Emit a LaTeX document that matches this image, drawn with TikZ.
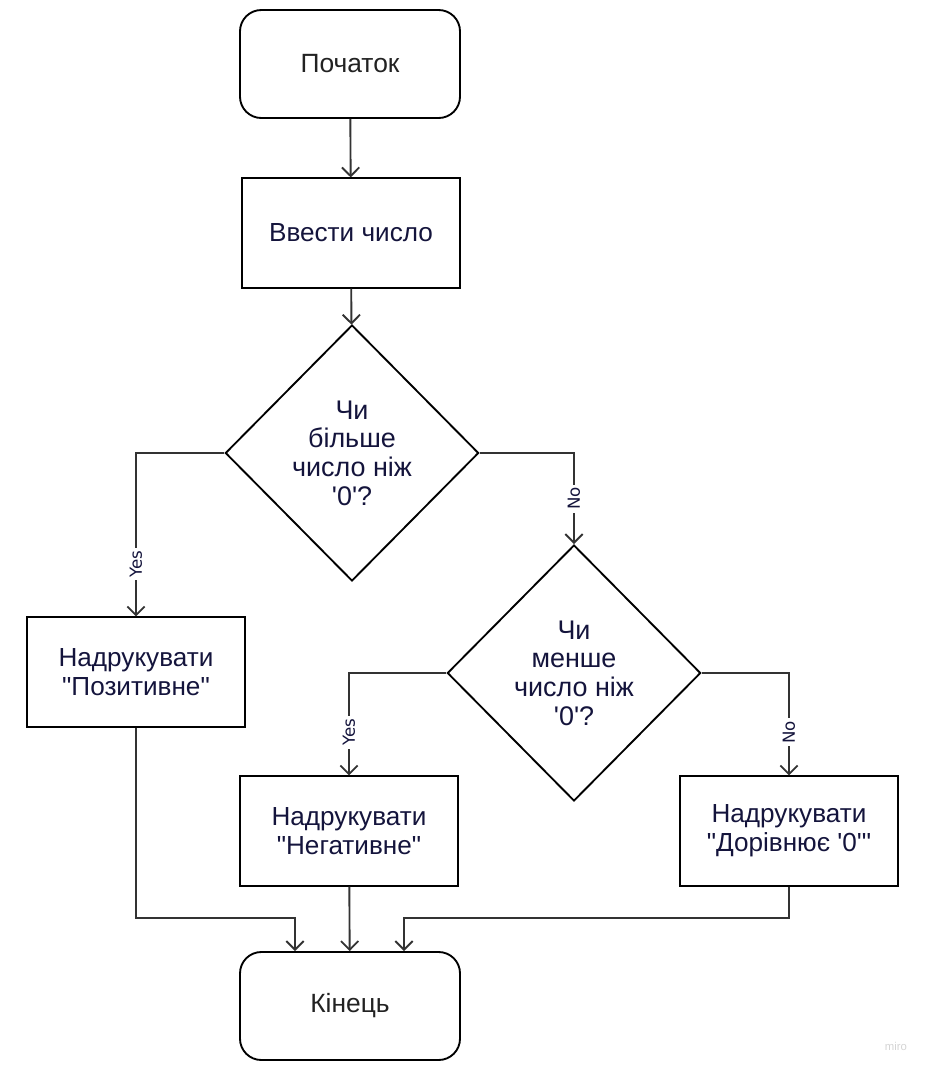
\documentclass[tikz,border=0pt]{standalone}
\usepackage{fontspec}
\setmainfont{Liberation Sans}[Ligatures=TeXOff]
\newfontfamily\lblfont{DejaVu Sans}
\usepackage{tikz}
\usetikzlibrary{shapes, shapes.geometric, arrows.meta, positioning, calc}
\definecolor{linegray}{HTML}{333333}
\definecolor{inknavy}{HTML}{14143C}
\definecolor{inkdark}{HTML}{222222}
\definecolor{mirogray}{HTML}{D4D4D4}

\begin{document}
\begin{tikzpicture}[x=0.75pt, y=-0.75pt]
		\useasboundingbox (0,0) rectangle (932,1072);
		\tikzstyle{term}=[rectangle, rounded corners=16pt, draw=black, line width=1.4pt, minimum width=165pt, minimum height=81pt, font=\fontsize{19.8}{21.5}\selectfont, text=inkdark]
		\tikzstyle{proc}=[rectangle, draw=black, line width=1.4pt, minimum width=164pt, minimum height=82pt, align=center, font=\fontsize{19.6}{21.8}\selectfont, text=inknavy]
		\tikzstyle{cond}=[diamond, draw=black, line width=1.4pt, inner sep=0pt, minimum width=190pt, minimum height=192pt, align=center, font=\fontsize{20.2}{21.5}\selectfont, text=inknavy]
		\tikzstyle{arr}=[draw=linegray, line width=1.4pt, -{Straight Barb[length=6.5pt, width=13pt, line width=1.4pt]}]
		\tikzstyle{lbl}=[fill=white, inner sep=2pt, rotate=90, font=\lblfont\fontsize{12.5}{14}\selectfont, text=inknavy]
		%%
		\node (start) at (350,64) [term] {Початок};
		\node (inp) at (351,233) [proc] {Ввести число};
		\node (c1) at (352,453) [cond] {Чи\\більше\\число ніж\\'0'?};
		\node (pos) at (136,672) [proc] {Надрукувати\\"Позитивне"};
		\node (c2) at (574,673) [cond] {Чи\\менше\\число ніж\\'0'?};
		\node (neg) at (349,831) [proc] {Надрукувати\\"Негативне"};
		\node (zero) at (789,831) [proc] {Надрукувати\\"Дорівнює '0'"};
		\node (fin) at (350,1006) [term] {Кінець};
		
		\draw [arr] (start) -- (inp);
		\draw [arr] (inp) -- (c1);
		\draw [arr] (c1.west) -| (pos.north) node [lbl, pos=0.84] {Yes};
		\draw [arr] (c1.east) -| (c2.north) node [lbl, pos=0.75] {No};
		\draw [arr] (c2.west) -| (neg.north) node [lbl, pos=0.79] {Yes};
		\draw [arr] (c2.east) -| (zero.north) node [lbl, pos=0.79] {No};
		
		\draw [arr] (pos.south) -- ++(0,190) -| ([xshift=-41.25pt]fin.north);
		\draw [arr] (neg) -- (fin);
		\draw [arr] (zero.south) -- ++(0,31) -| ([xshift=40.5pt]fin.north);
		
		\node (miro) at (896,1046) [text=mirogray, font=\fontsize{8.5}{9}\selectfont] {miro};
		\end{tikzpicture}
\end{document}
